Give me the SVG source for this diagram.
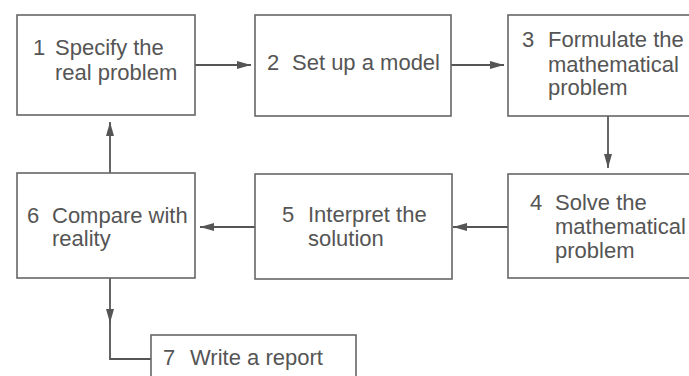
<svg xmlns="http://www.w3.org/2000/svg" width="689" height="376" viewBox="0 0 689 376">
<style>
.box{fill:#fff;stroke:#666;stroke-width:1.6}
.t{font-family:"Liberation Sans",Arial,sans-serif;font-size:22px;fill:#555}
.c{fill:none;stroke:#555;stroke-width:1.8}
</style>
<defs>
<marker id="ah" markerUnits="userSpaceOnUse" markerWidth="14" markerHeight="10" viewBox="0 0 14 10" refX="14" refY="5" orient="auto">
<path d="M0,1 L14,5 L0,9 Z" fill="#555"/>
</marker>
</defs>
<rect width="689" height="376" fill="#fff"/>
<g id="connectors">
<line class="c" x1="195" y1="65" x2="251" y2="65" marker-end="url(#ah)"/>
<line class="c" x1="451" y1="65" x2="504" y2="65" marker-end="url(#ah)"/>
<line class="c" x1="608" y1="116" x2="608" y2="168" marker-end="url(#ah)"/>
<line class="c" x1="508" y1="227" x2="453" y2="227" marker-end="url(#ah)"/>
<line class="c" x1="255" y1="227" x2="200" y2="227" marker-end="url(#ah)"/>
<line class="c" x1="110" y1="173" x2="110" y2="122" marker-end="url(#ah)"/>
<line class="c" x1="110" y1="278" x2="110" y2="323" marker-end="url(#ah)"/>
<path class="c" d="M110,322 V359 H151"/>
</g>
<g id="n1"><rect class="box" x="17" y="15" width="178" height="100"/>
<text class="t" x="33" y="55">1</text><text class="t" x="55" y="55">Specify the</text><text class="t" x="55" y="80">real problem</text></g>
<g id="n2"><rect class="box" x="255" y="15" width="196" height="101"/>
<text class="t" x="267" y="70">2</text><text class="t" x="292" y="70">Set up a model</text></g>
<g id="n3"><rect class="box" x="508" y="15" width="200" height="101"/>
<text class="t" x="522" y="47">3</text><text class="t" x="548" y="47">Formulate the</text><text class="t" x="548" y="72">mathematical</text><text class="t" x="548" y="95">problem</text></g>
<g id="n4"><rect class="box" x="508" y="174" width="200" height="104"/>
<text class="t" x="530" y="210">4</text><text class="t" x="555" y="210">Solve the</text><text class="t" x="555" y="234">mathematical</text><text class="t" x="555" y="258">problem</text></g>
<g id="n5"><rect class="box" x="255" y="174" width="197" height="105"/>
<text class="t" x="282" y="222">5</text><text class="t" x="308" y="222">Interpret the</text><text class="t" x="308" y="246">solution</text></g>
<g id="n6"><rect class="box" x="17" y="173" width="178" height="105"/>
<text class="t" x="27" y="223">6</text><text class="t" x="52" y="223">Compare with</text><text class="t" x="52" y="246">reality</text></g>
<g id="n7"><rect class="box" x="151" y="335" width="205" height="60"/>
<text class="t" x="163" y="365">7</text><text class="t" x="190" y="365">Write a report</text></g>
</svg>
